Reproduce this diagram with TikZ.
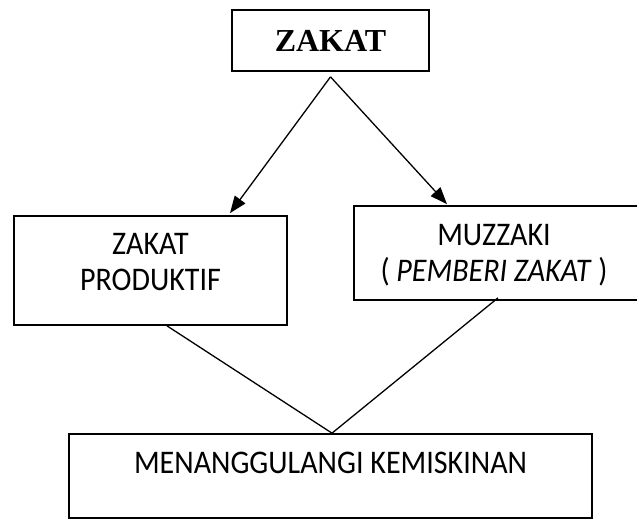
\documentclass[tikz,border=0pt]{standalone}
\usepackage{fontspec}
\setmainfont{Carlito}
\newfontfamily\judulfont{Liberation Serif}
\usetikzlibrary{arrows.meta}
\newcommand{\sempit}[1]{\scalebox{0.91}[1]{#1}}

\begin{document}
\begin{tikzpicture}[x=1pt, y=-1pt,
	kotak/.style={rectangle, draw=black, line width=1.7pt, inner sep=0pt},
	tulisan/.style={align=center, inner sep=0pt, font=\fontsize{33}{36}\selectfont},
	garis/.style={draw=black, line width=1.3pt},
	panah/.style={garis, -{Triangle[length=17pt,width=13pt]}}]
			\useasboundingbox (0,0) rectangle (637,519);
			
			\node[kotak, minimum width=197pt, minimum height=61pt, font=\judulfont\bfseries\fontsize{32}{36}\selectfont] (zakat) at (330.5,40.5){ZAKAT};
			\node[kotak, minimum width=273pt, minimum height=109pt] (produktif) at (150.5,270.5){};
			\node[kotak, minimum width=287pt, minimum height=94pt] (muzzaki) at (497.5,253){};
			\node[kotak, minimum width=523pt, minimum height=84pt] (atasi) at (330.5,476){};
			
			\node[tulisan] (teks1) at (150.5,262){\sempit{ZAKAT}\\\sempit{PRODUKTIF}};
			\node[tulisan] (teks2) at (494,255){\sempit{MUZZAKI}\\\sempit{( \textit{PEMBERI ZAKAT} )}};
			\node[tulisan] (teks3) at (330.5,462.5){\sempit{MENANGGULANGI KEMISKINAN}};
			
			\coordinate (cabang) at ([yshift=-5pt]zakat.south);
			\coordinate (temu) at ([xshift=1.5pt]atasi.north);
			
			\path (cabang) edge[panah] ([xshift=79.5pt,yshift=2pt]produktif.north);
			\path (cabang) edge[panah] ([xshift=-50.5pt,yshift=1pt]muzzaki.north);
			\path ([xshift=16.5pt]produktif.south) edge[garis] (temu);
			\path ([xshift=0.5pt,yshift=3pt]muzzaki.south) edge[garis] (temu);
			\end{tikzpicture}
\end{document}
